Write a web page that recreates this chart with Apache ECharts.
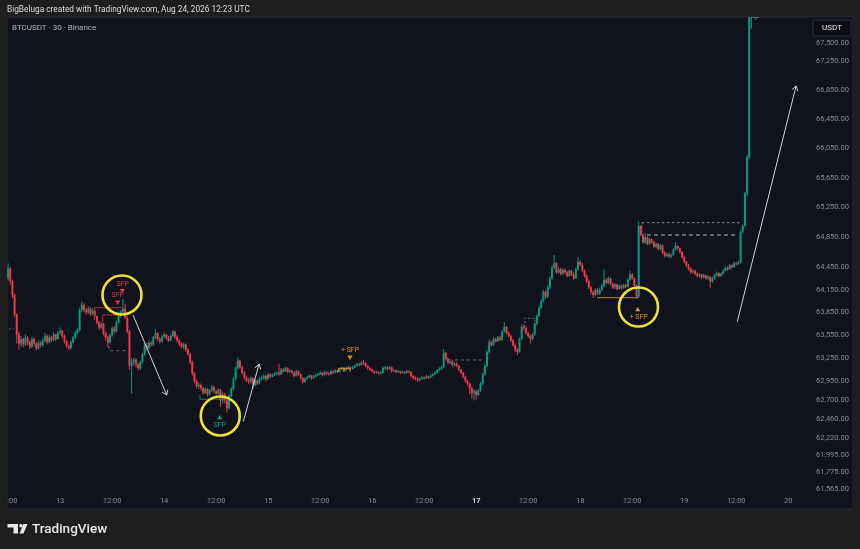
<!DOCTYPE html>
<html><head><meta charset="utf-8">
<script src="https://cdn.jsdelivr.net/npm/echarts@6.0.0/dist/echarts.min.js"></script>
<style>html,body{margin:0;padding:0;background:#1e1e1e;}#c{width:860px;height:549px;}</style>
</head><body><div id="c"></div>
<script>
// ---- data (30-minute candles, BTCUSDT, from 12th 12:00) ----
const firstOpen = 64300;
const closes = [
64430,64260,64080,63820,63560,63440,63500,63430,63520,63460,
63400,63500,63440,63380,63450,63420,63480,63540,63460,63520,
63490,63560,63500,63580,63610,63540,63470,63410,63380,63460,
63520,63580,63620,63880,63950,63880,63850,63900,63830,63870,
63800,63720,63650,63700,63580,63520,63460,63550,63640,63600,
63720,63800,63860,63900,63780,63600,63150,63200,63230,63170,
63120,63200,63300,63420,63380,63450,63430,63520,63580,63500,
63470,63530,63560,63520,63480,63540,63600,63530,63480,63440,
63400,63430,63360,63300,63200,63050,62950,62890,62900,62860,
62800,62850,62780,62830,62870,62820,62790,62840,62700,62780,
62700,62600,62760,62850,62980,63120,63220,63130,63060,63000,
62960,62940,62990,62900,62960,62920,62980,62990,63020,62980,
63040,63010,63030,63050,63060,63040,63100,63080,63120,63070,
63090,63060,63020,63080,63040,62990,62940,62980,63000,63020,
62990,63010,63030,63040,63060,63030,63070,63050,63040,63080,
63060,63090,63070,63100,63120,63090,63110,63130,63110,63130,
63150,63170,63160,63190,63180,63150,63120,63100,63080,63060,
63070,63050,63060,63120,63130,63110,63130,63080,63090,63070,
63080,63060,63070,63060,63080,63070,63020,62990,62980,62960,
62980,63000,62990,63010,63000,63020,63040,63060,63090,63110,
63130,63320,63240,63190,63210,63160,63180,63150,63100,63060,
63010,62950,62920,62860,62800,62820,62770,62830,62920,63040,
63150,63330,63460,63420,63500,63470,63520,63490,63600,63660,
63580,63540,63480,63420,63360,63330,63500,63660,63640,63580,
63540,63500,63560,63700,63800,63910,64000,64120,64060,64180,
64300,64440,64500,64380,64420,64360,64410,64380,64330,64400,
64350,64300,64420,64520,64480,64400,64330,64260,64180,64120,
64080,64150,64100,64150,64200,64280,64240,64300,64230,64180,
64220,64160,64200,64170,64210,64190,64280,64350,64300,64200,
64060,65000,64880,64780,64850,64760,64820,64780,64720,64760,
64690,64740,64640,64600,64620,64590,64610,64680,64730,64700,
64650,64580,64520,64470,64430,64380,64400,64360,64330,64350,
64310,64340,64300,64320,64260,64300,64340,64370,64330,64360,
64400,64440,64420,64470,64450,64500,64490,64510,64920,65000,
65440,65930,68300,68500,68600,68450,68600];
const highs = [
64500,64450,64280,64100,63840,63600,63540,63520,63560,63540,
63480,63530,63520,63460,63480,63470,63510,63580,63560,63550,
63540,63590,63570,63600,63650,63620,63560,63490,63430,63480,
63540,63610,63640,63910,63990,63970,63910,63930,63920,63900,
63890,63810,63740,63720,63710,63600,63540,63570,63660,63670,
63740,63830,63880,64030,63960,63800,63620,63250,63260,63250,
63190,63220,63320,63440,63450,63480,63470,63540,63630,63590,
63530,63550,63590,63570,63540,63560,63620,63610,63550,63500,
63460,63450,63440,63380,63320,63220,63070,62970,62930,62920,
62880,62870,62860,62850,62900,62890,62840,62860,62850,62810,
62800,62720,62780,62870,63000,63140,63260,63230,63150,63080,
63020,62990,63010,63000,62980,62970,63000,63020,63040,63030,
63060,63050,63050,63070,63080,63180,63120,63120,63140,63130,
63110,63100,63080,63100,63090,63050,63000,63000,63020,63040,
63030,63030,63050,63060,63080,63070,63090,63080,63070,63100,
63090,63110,63100,63120,63140,63130,63130,63150,63140,63150,
63170,63190,63190,63210,63230,63200,63160,63130,63110,63090,
63090,63080,63080,63140,63150,63140,63150,63140,63110,63100,
63100,63090,63090,63080,63100,63090,63080,63030,63010,63000,
63000,63020,63010,63030,63020,63040,63060,63080,63110,63130,
63150,63370,63330,63260,63240,63230,63200,63200,63160,63110,
63070,63020,62970,62930,62880,62850,62840,62850,62940,63060,
63170,63350,63490,63480,63530,63520,63540,63540,63620,63720,
63670,63600,63560,63500,63440,63380,63520,63690,63690,63660,
63600,63560,63580,63720,63830,63940,64030,64150,64140,64210,
64330,64470,64610,64520,64450,64440,64430,64430,64400,64420,
64410,64380,64440,64580,64540,64500,64420,64350,64280,64200,
64140,64170,64170,64180,64230,64420,64300,64320,64310,64250,
64240,64230,64220,64220,64230,64230,64300,64400,64370,64310,
64220,65060,65010,64900,64900,64860,64840,64830,64800,64780,
64770,64760,64750,64660,64640,64640,64630,64700,64780,64740,
64710,64660,64600,64530,64490,64450,64420,64420,64380,64370,
64360,64360,64350,64340,64330,64320,64360,64390,64380,64380,
64420,64460,64460,64490,64490,64520,64520,64530,64940,65020,
65460,65960,68400,68700,68800,68700,68700];
const lows = [
64270,64220,64040,63790,63440,63360,63400,63390,63410,63420,
63370,63380,63410,63350,63360,63390,63400,63460,63430,63440,
63460,63470,63470,63490,63560,63510,63440,63380,63350,63360,
63440,63500,63560,63600,63850,63850,63820,63830,63800,63810,
63780,63690,63620,63630,63550,63480,63400,63440,63530,63570,
63590,63700,63780,63840,63760,63580,63100,62790,63150,63130,
63090,63100,63180,63280,63350,63360,63400,63410,63500,63470,
63440,63450,63510,63490,63460,63470,63520,63500,63460,63410,
63380,63370,63330,63280,63170,63020,62920,62860,62850,62830,
62770,62780,62750,62760,62810,62790,62760,62770,62620,62660,
62660,62540,62580,62740,62830,62960,63100,63110,63040,62970,
62940,62910,62920,62850,62880,62900,62910,62960,62970,62950,
62970,62990,63000,63020,63030,63020,63030,63060,63070,63050,
63060,63040,63000,63010,63020,62970,62920,62930,62970,62990,
62970,62980,63000,63020,63030,63010,63020,63030,63020,63030,
63040,63050,63050,63060,63090,63070,63080,63100,63090,63100,
63120,63140,63140,63150,63160,63130,63100,63080,63060,63040,
63050,63030,63040,63050,63100,63090,63100,63060,63070,63050,
63060,63040,63050,63040,63050,63050,63000,62970,62960,62940,
62950,62970,62970,62980,62980,62990,63010,63030,63050,63080,
63100,63120,63220,63170,63170,63140,63140,63130,63080,63040,
62990,62930,62890,62780,62720,62700,62710,62750,62810,62900,
63020,63130,63310,63400,63410,63450,63460,63470,63480,63580,
63560,63520,63460,63400,63330,63290,63320,63490,63610,63560,
63520,63440,63480,63540,63680,63790,63890,63980,64030,64040,
64160,64280,64420,64360,64360,64340,64340,64360,64310,64320,
64330,64280,64290,64400,64460,64380,64310,64240,64160,64090,
64040,64060,64080,64080,64130,64180,64220,64220,64210,64160,
64160,64140,64150,64150,64160,64170,64180,64270,64280,64180,
64030,64040,64860,64760,64760,64740,64740,64760,64700,64700,
64670,64670,64620,64580,64580,64570,64570,64600,64670,64680,
64630,64560,64500,64450,64400,64360,64360,64340,64310,64310,
64290,64300,64280,64280,64180,64240,64280,64320,64310,64320,
64350,64390,64400,64410,64430,64440,64470,64480,64500,64900,
64990,65400,65900,67700,68300,67820,67850];

// price axis labels and time axis labels
const yTicks = [67500,67250,66850,66450,66050,65650,65250,64850,64450,64150,63850,63550,63250,62950,62700,62460,62220,61995,61775,61565];
const xTickLabels = ['12:00','13','12:00','14','12:00','15','12:00','16','12:00','17','12:00','18','12:00','19','12:00','20'];
const slotsTotal = 371; // 30-min slots shown on the time axis
const days = [12,13,14,15,16,17,18,19,20];

// annotations in data coordinates [candle index, price]
const sfpCircles = [[52.56,64080],[97.9,62500],[290.9,63921]];
const arrows = [[57.64,63816,73.19,62771],[108.54,62427,115.78,63170],[336.5,63728,363.6,66904]];

// ---- build ----
const categories = [];
for (let s = 0; s < slotsTotal; s++) {
  const mins = 12*60 + s*30; const d = days[0] + Math.floor(mins/1440); const m = mins % 1440;
  categories.push(d + ' ' + String(Math.floor(m/60)).padStart(2,'0') + ':' + String(m%60).padStart(2,'0'));
}
const candleRows = closes.map((c, i) => [i, i === 0 ? firstOpen : closes[i-1], c, lows[i], highs[i]]);

const UP = '#089981', DOWN = '#f23645';
const FONT = 'Roboto, "Noto Sans", sans-serif';
const chart = echarts.init(document.getElementById('c'), null, {renderer: 'canvas'});
const fmtPrice = v => Math.round(v).toLocaleString('en-US') + '.00';

function renderCandle(params, api) {
  const i = api.value(0), o = api.value(1), c = api.value(2), l = api.value(3), h = api.value(4);
  const cs = params.coordSys;
  const clampY = y => Math.max(cs.y, Math.min(cs.y + cs.height, y));
  const po = api.coord([i, o]), pc = api.coord([i, c]);
  const yl = clampY(api.coord([i, l])[1]), yh = clampY(api.coord([i, h])[1]);
  const cx = po[0];
  const col = c >= o ? UP : DOWN;
  let top = clampY(Math.min(po[1], pc[1])), bot = clampY(Math.max(po[1], pc[1]));
  if (bot - top < 1) { bot = top + 1; }
  const children = [];
  if (yh < yl) children.push({type: 'rect', shape: {x: cx - 0.5, y: yh, width: 1, height: yl - yh}, style: {fill: col}});
  if (bot > top) children.push({type: 'rect', shape: {x: cx - 1, y: top, width: 2, height: bot - top}, style: {fill: col}});
  return {type: 'group', children: children};
}

chart.setOption({
  animation: false,
  backgroundColor: '#1e1e1e',
  grid: {left: 7, right: 49, top: 17, bottom: 57, containLabel: false, outerBoundsMode: 'none'},
  xAxis: {
    type: 'category', data: categories, boundaryGap: true,
    axisLine: {show: false}, axisTick: {show: false}, splitLine: {show: false},
    axisLabel: {
      interval: (idx) => idx % 24 === 0,
      formatter: (val, idx) => { const t = xTickLabels[Math.round(idx/24)]; return t === '17' ? '{b|17}' : t; },
      color: '#8a8d96', fontSize: 7.5, fontFamily: FONT, margin: 5, hideOverlap: false,
      rich: {b: {fontWeight: 'bold', color: '#d6d8de', fontSize: 7.5, fontFamily: FONT}}
    }
  },
  yAxis: {
    type: 'log', logBase: 10, position: 'right', min: 61527, max: 67863,
    axisLine: {show: false}, axisTick: {show: false}, splitLine: {show: false},
    axisLabel: {customValues: yTicks, formatter: fmtPrice, color: '#8a8d96', fontSize: 7.5, fontFamily: FONT, margin: 5, hideOverlap: false}
  },
  series: [{
    type: 'custom', data: candleRows, renderItem: renderCandle, clip: true,
    encode: {x: 0, y: [1, 2, 3, 4]}
  }]
});

// annotation graphics positioned through the axes
const ref = 63000;
const xa = chart.convertToPixel({gridIndex: 0}, [0, ref])[0];
const xb = chart.convertToPixel({gridIndex: 0}, [100, ref])[0];
const bw = (xb - xa) / 100;
const P = (i, v) => [xa + i*bw, chart.convertToPixel({gridIndex: 0}, [0, v])[1]];

const els = [];
// panel & frame
els.push({type: 'rect', z: -100, shape: {x: 7, y: 17, width: 846, height: 492}, style: {fill: '#10131b', stroke: '#262a33', lineWidth: 1}});
els.push({type: 'rect', z: 200, shape: {x: 0, y: 17, width: 7, height: 492}, style: {fill: '#1e1e1e'}});
els.push({type: 'rect', z: 200, shape: {x: 853, y: 17, width: 7, height: 492}, style: {fill: '#1e1e1e'}});
els.push({type: 'text', z: 210, x: 7, y: 10, style: {text: 'BigBeluga created with TradingView.com, Aug 24, 2026 12:23 UTC', fill: '#dcdcdc', fontSize: 8.3, fontFamily: FONT, align: 'left', verticalAlign: 'middle'}});
els.push({type: 'text', z: 210, x: 12, y: 27.5, style: {text: 'BTCUSDT · 30 · Binance', fill: '#b2b5be', fontSize: 8, fontFamily: FONT, align: 'left', verticalAlign: 'middle'}});
els.push({type: 'rect', z: 210, shape: {x: 813, y: 20, width: 38, height: 16, r: 2}, style: {fill: '#0b0d12', stroke: '#2c3038', lineWidth: 1}});
els.push({type: 'text', z: 211, x: 832, y: 28, style: {text: 'USDT', fill: '#e3e5ea', fontSize: 8, fontFamily: FONT, align: 'center', verticalAlign: 'middle'}});
// TradingView logo
els.push({type: 'rect', z: 210, shape: {x: 7.5, y: 524, width: 10.5, height: 3.5}, style: {fill: '#e8e8e8'}});
els.push({type: 'rect', z: 210, shape: {x: 13.5, y: 524, width: 4.5, height: 9.5}, style: {fill: '#e8e8e8'}});
els.push({type: 'circle', z: 210, shape: {cx: 21, cy: 525.8, r: 1.8}, style: {fill: '#e8e8e8'}});
els.push({type: 'polygon', z: 210, shape: {points: [[23.5,524],[27.5,524],[23.5,533.5],[19.5,533.5]]}, style: {fill: '#e8e8e8'}});
els.push({type: 'text', z: 210, x: 32, y: 529.5, style: {text: 'TradingView', fill: '#e8e8e8', fontSize: 13.5, fontWeight: 500, fontFamily: 'Roboto, sans-serif', align: 'left', verticalAlign: 'middle'}});

function seg(pts, stroke, dash, w) {
  els.push({type: 'polyline', z: 50, shape: {points: pts.map(p => P(p[0], p[1]))}, style: {stroke: stroke, lineWidth: w || 1, fill: null, lineDash: dash || null}});
}
function label(i, v, text, color, size) {
  const p = P(i, v);
  els.push({type: 'text', z: 60, x: p[0], y: p[1], style: {text: text, fill: color, fontSize: size || 7, fontFamily: FONT, align: 'center', verticalAlign: 'middle'}});
}
function tri(i, v, color, down) {
  const p = P(i, v), s = 2.6;
  const pts = down ? [[p[0]-s, p[1]-s*0.8],[p[0]+s, p[1]-s*0.8],[p[0], p[1]+s*0.9]] : [[p[0]-s, p[1]+s*0.8],[p[0]+s, p[1]+s*0.8],[p[0], p[1]-s*0.9]];
  els.push({type: 'polygon', z: 60, shape: {points: pts}, style: {fill: color}});
}

const RED = '#e0384a', GRN = '#1d9a7e', ORG = '#e8901f', GRAY = '#6b6f78';
// level marks
seg([[39.78,63750],[39.78,63912],[52.42,63912]], '#b3303f');
seg([[43.65,63714],[43.65,63816],[50.39,63816]], '#b3303f');
seg([[46.56,63487],[46.56,63347],[55.47,63347]], GRAY, [3,3]);
seg([[0.4,63632],[2.7,63632]], GRAY, [2,2]);
seg([[88.56,62771],[88.56,62716],[97.78,62716]], '#0f7a66');
seg([[152.4,63074],[152.4,63118],[157.8,63118],[157.8,63074]], ORG);
seg([[155.0,63118],[155.0,63074]], ORG);
seg([[206.2,63226],[218.5,63226]], GRAY, [3,3]);
seg([[238.5,63658],[238.5,63772],[243.1,63772],[243.1,63592]], GRAY, [2,2]);
seg([[271.8,64044],[290.7,64044]], '#c07a1c');
seg([[292.5,65043],[337.7,65043]], '#8a8d96', [2.5,2.5]);
seg([[292.5,65043],[292.5,64878]], GRAY, [2,2]);
seg([[294.8,64878],[336.4,64878]], '#7d818a', [4,3], 1.3);

// SFP labels
label(52.93,64225,'SFP',RED); tri(52.70,64133,RED,true);
label(50.62,64080,'SFP',RED); tri(50.58,63978,RED,true);
tri(97.65,62483,GRN,false); label(97.69,62375,'SFP',GRN);
label(157.78,63347,'+ SFP',ORG); tri(157.78,63256,ORG,true);
tri(290.54,63891,ORG,false); label(291.0,63785,'+ SFP',ORG);

// highlight circles
sfpCircles.forEach(c => { const p = P(c[0], c[1]); els.push({type: 'circle', z: 70, shape: {cx: p[0], cy: p[1], r: 19.5}, style: {fill: null, stroke: '#ede23a', lineWidth: 2.6}}); });

// arrows
arrows.forEach(a => {
  const p = P(a[0], a[1]), q = P(a[2], a[3]);
  const ang = Math.atan2(q[1]-p[1], q[0]-p[0]), L = 5.5, s = 0.6;
  els.push({type: 'line', z: 70, shape: {x1: p[0], y1: p[1], x2: q[0], y2: q[1]}, style: {stroke: '#d0d3d9', lineWidth: 1}});
  els.push({type: 'polyline', z: 70, shape: {points: [[q[0]-L*Math.cos(ang-s), q[1]-L*Math.sin(ang-s)], q, [q[0]-L*Math.cos(ang+s), q[1]-L*Math.sin(ang+s)]]}, style: {stroke: '#d0d3d9', lineWidth: 1, fill: null}});
});

chart.setOption({graphic: {elements: els}});
</script></body></html>
